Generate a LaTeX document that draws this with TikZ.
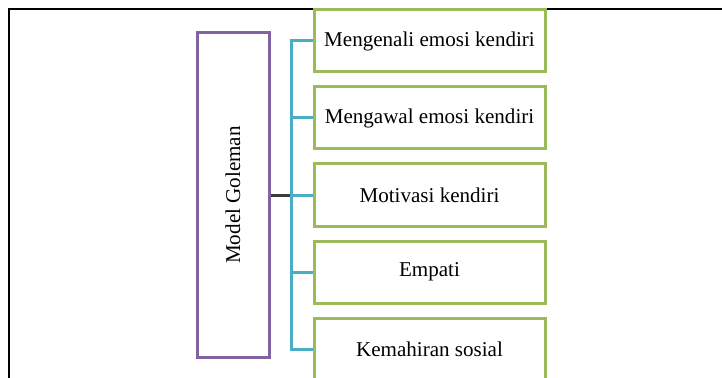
\documentclass[tikz,border=0pt]{standalone}
\usepackage{fontspec}
\setmainfont{Liberation Serif}
\tikzset{every picture/.style={line width=0.75pt}}
\tikzset{
  itembox/.style={draw={rgb, 255:red, 155; green, 187; blue, 89}, fill=white, line width=2.25, minimum width=173.25pt, minimum height=46.5pt, inner sep=0pt, font=\fontsize{15.8}{18}\selectfont},
  modelbox/.style={draw={rgb, 255:red, 128; green, 100; blue, 162}, line width=2.25, minimum width=54pt, minimum height=243pt, inner sep=0pt, font=\fontsize{15.8}{18}\selectfont},
  branch/.style={draw={rgb, 255:red, 75; green, 172; blue, 198}, line width=2.25},
  stub/.style={draw={rgb, 255:red, 60; green, 60; blue, 60}, line width=2.25}
}

\begin{document}
\begin{tikzpicture}[x=0.75pt,y=0.75pt,yscale=-1,xscale=1]
\useasboundingbox (0,0) rectangle (722,378);

%Frame
\draw [line width=1.5] (9,378) -- (9,9) -- (722,9) ;

% Model box
\node [modelbox] (goleman) at (233,195) {\rotatebox{90}{Model Goleman}};

% Item boxes
\node [itembox] (m1) at (429.5,41) {Mengenali emosi kendiri};
\node [itembox] (m2) at (429.5,118) {Mengawal emosi kendiri};
\node [itembox] (m3) at (429.5,195) {Motivasi kendiri};
\node [itembox] (m4) at (429.5,272) {Empati};
\node [itembox] (m5) at (429.5,349) {Kemahiran sosial};

% Connectors
\coordinate (spine) at (291,195);
\draw [stub] (goleman.east) -- (spine) ;
\foreach \i in {1,...,5}
  \draw [branch] (m\i.west) -| (spine) ;

\end{tikzpicture}
\end{document}
